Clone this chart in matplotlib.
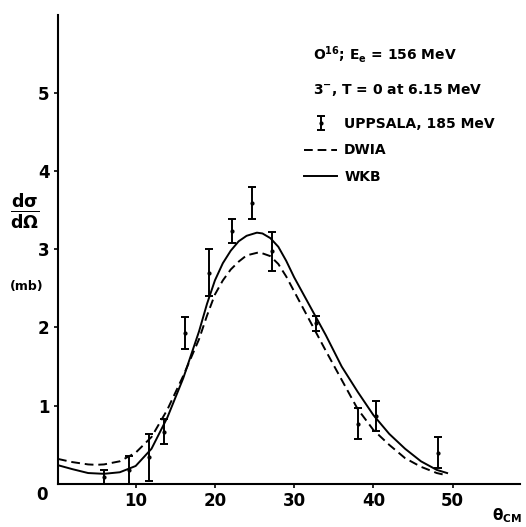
import numpy as np
import matplotlib.pyplot as plt
from matplotlib.lines import Line2D

plt.rcParams['font.family'] = 'DejaVu Sans'
plt.rcParams['font.weight'] = 'bold'
plt.rcParams['mathtext.fontset'] = 'dejavusans'

# measured points (Uppsala, 185 MeV)
theta_exp = [6.0, 9.1, 11.7, 13.6, 16.2, 19.2, 22.1, 24.7, 27.2, 32.7, 38.1, 40.3, 48.1]
sigma_exp = [0.09, 0.18, 0.34, 0.67, 1.93, 2.70, 3.23, 3.59, 2.97, 2.05, 0.77, 0.87, 0.40]
sigma_err = [0.09, 0.18, 0.30, 0.16, 0.20, 0.30, 0.15, 0.20, 0.25, 0.10, 0.20, 0.19, 0.20]

# WKB curve (solid)
theta_wkb = [0.2, 2, 4, 6, 8, 10, 12, 14, 16, 18, 19, 20, 21, 22, 23, 24, 25.3, 26, 27,
             28, 29, 30, 32, 34, 36, 38, 40, 42, 44, 46, 48, 49.3]
sigma_wkb = [0.24, 0.19, 0.14, 0.13, 0.15, 0.23, 0.45, 0.85, 1.35, 1.95, 2.3, 2.6, 2.82,
             2.98, 3.1, 3.17, 3.21, 3.2, 3.14, 3.03, 2.85, 2.64, 2.27, 1.9, 1.5, 1.18,
             0.88, 0.64, 0.45, 0.29, 0.18, 0.14]

# DWIA curve (dashed)
theta_dwia = [0.2, 2, 4, 5, 6, 8, 10, 12, 14, 16, 18, 19, 20, 21, 22, 23, 24, 25.6, 27,
              28, 29, 30, 32, 34, 36, 38, 40, 42, 44, 46, 48, 49.3]
sigma_dwia = [0.32, 0.28, 0.25, 0.245, 0.25, 0.29, 0.4, 0.6, 0.95, 1.38, 1.85, 2.15, 2.42,
              2.6, 2.74, 2.84, 2.92, 2.96, 2.91, 2.81, 2.65, 2.46, 2.08, 1.7, 1.33, 0.96,
              0.69, 0.5, 0.33, 0.22, 0.14, 0.11]

xticks = [10, 20, 30, 40, 50]
yticks = [1, 2, 3, 4, 5]

fig = plt.figure(figsize=(5.26, 5.27), dpi=100)
ax = fig.add_axes([58/526, 1-484/527, 462/526, 469/527])

ax.plot(theta_wkb, sigma_wkb, color='black', lw=1.4, label='WKB')
ax.plot(theta_dwia, sigma_dwia, color='black', lw=1.4, dashes=(4.5, 2.5), label='DWIA')
eb = ax.errorbar(theta_exp, sigma_exp, yerr=sigma_err, fmt='.', color='black', ms=4,
                 elinewidth=1.4, capsize=3, capthick=1.4, label='UPPSALA, 185 MeV')

ax.set_xlim(0.2, 58.5)
ax.set_ylim(0, 5.99)
ax.set_xticks(xticks)
ax.set_yticks(yticks)
ax.tick_params(labelsize=12, width=1.2, length=3, pad=3)
for s in ['top', 'right']:
    ax.spines[s].set_visible(False)
for s in ['left', 'bottom']:
    ax.spines[s].set_linewidth(1.5)

ax.text(-0.022, -0.005, '0', transform=ax.transAxes, ha='right', va='top', fontsize=12)
ax.text(-0.071, 0.582, r'$\mathbf{\frac{d\sigma}{d\Omega}}$', transform=ax.transAxes,
        ha='center', va='center', fontsize=18)
ax.text(-0.067, 0.422, '(mb)', transform=ax.transAxes, ha='center', va='center', fontsize=9)
ax.text(0.94, -0.068, '\u03b8$_{\\mathbf{CM}}$', transform=ax.transAxes,
        ha='left', va='center', fontsize=11)

ax.text(0.552, 0.915, r'O$^{\mathbf{16}}$; E$_{\mathbf{e}}$ = 156 MeV', transform=ax.transAxes,
        ha='left', va='center', fontsize=10)
ax.text(0.552, 0.840, r'3$^{\mathbf{-}}$, T = 0 at 6.15 MeV', transform=ax.transAxes,
        ha='left', va='center', fontsize=10)

handles = [eb,
           Line2D([], [], color='black', lw=1.4, dashes=(4.5, 2.5)),
           Line2D([], [], color='black', lw=1.4)]
labels = ['UPPSALA, 185 MeV', 'DWIA', 'WKB']
ax.legend(handles, labels, loc='upper left', bbox_to_anchor=(297/526, 1-110/527),
          bbox_transform=fig.transFigure, frameon=False, fontsize=10,
          handlelength=2.4, handletextpad=0.5, labelspacing=0.9, borderpad=0)

fig.savefig('out.png', dpi=100)
